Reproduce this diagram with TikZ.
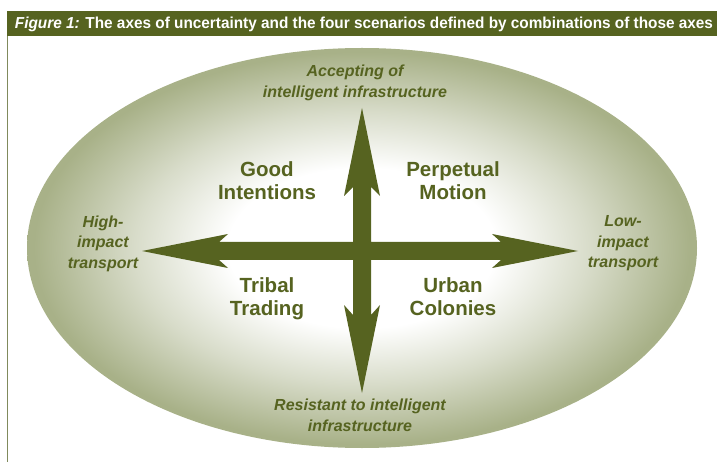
\documentclass[tikz,border=0pt]{standalone}
\usepackage{fontspec}
\setmainfont{Liberation Sans}
\definecolor{figolive}{RGB}{86,99,32}
\definecolor{ellrim}{RGB}{168,177,136}
\definecolor{framegray}{RGB}{128,138,92}
\pgfdeclareradialshading{ellfill}{\pgfpoint{0bp}{0bp}}{color(0bp)=(white); color(10bp)=(white); color(17bp)=(white!55!ellrim); color(24.5bp)=(ellrim); color(50bp)=(ellrim)}
\tikzset{
  scenario/.style={text=figolive, align=center, anchor=north, font=\bfseries\fontsize{20.5}{23}\selectfont, inner sep=0pt},
  pole/.style={text=figolive, align=center, anchor=north, font=\bfseries\itshape\fontsize{16}{20.5}\selectfont, inner sep=0pt},
  axisfill/.style={fill=figolive, draw=none}
}
\begin{document}
\begin{tikzpicture}[x=1pt,y=-1pt]
\useasboundingbox (0,0) rectangle (717,462);
% title band and left frame rule
\fill[figolive] (7,11) rectangle (717,36);
\draw[framegray, line width=1.4pt] (7.7,36) -- (7.7,462);
\node[text=white, inner sep=0pt, anchor=base] (title) at (364,29)
  {\resizebox{698pt}{11.5pt}{\bfseries\itshape Figure 1:\upshape{} The axes of uncertainty and the four scenarios defined by combinations of those axes}};
% shaded ellipse
\shade[shading=ellfill] (362,248) ellipse [x radius=335pt, y radius=200pt];
% the two axes as one cross with four arrowheads
\coordinate (c) at (362,251);
\coordinate (tipN) at (362,108);
\coordinate (tipS) at (362,393);
\coordinate (tipW) at (142,251);
\coordinate (tipE) at (578,251);
\fill[axisfill]
  (tipN) -- (380,196) -- (371,187) -- (371,242) -- (501,242) -- (492,234)
  -- (tipE) -- (492,268) -- (501,260) -- (371,260) -- (371,315) -- (380,305)
  -- (tipS) -- (344,305) -- (353,315) -- (353,260) -- (219,260) -- (228,268)
  -- (tipW) -- (228,234) -- (219,242) -- (353,242) -- (353,187) -- (344,196) -- cycle;
% axis poles
\node[pole] (accept) at (355,65) {Accepting of\\intelligent infrastructure};
\node[pole] (resist) at (360,399) {Resistant to intelligent\\infrastructure};
\node[pole] (high) at (103,215.5) {High-\\impact\\transport};
\node[pole] (low) at (623,215.5) {Low-\\impact\\transport};
% scenarios
\node[scenario] (good) at (267,161.5) {Good\\Intentions};
\node[scenario] (perp) at (453,161.5) {Perpetual\\Motion};
\node[scenario] (tribal) at (267,277.5) {Tribal\\Trading};
\node[scenario] (urban) at (453,277.5) {Urban\\Colonies};
\end{tikzpicture}
\end{document}
